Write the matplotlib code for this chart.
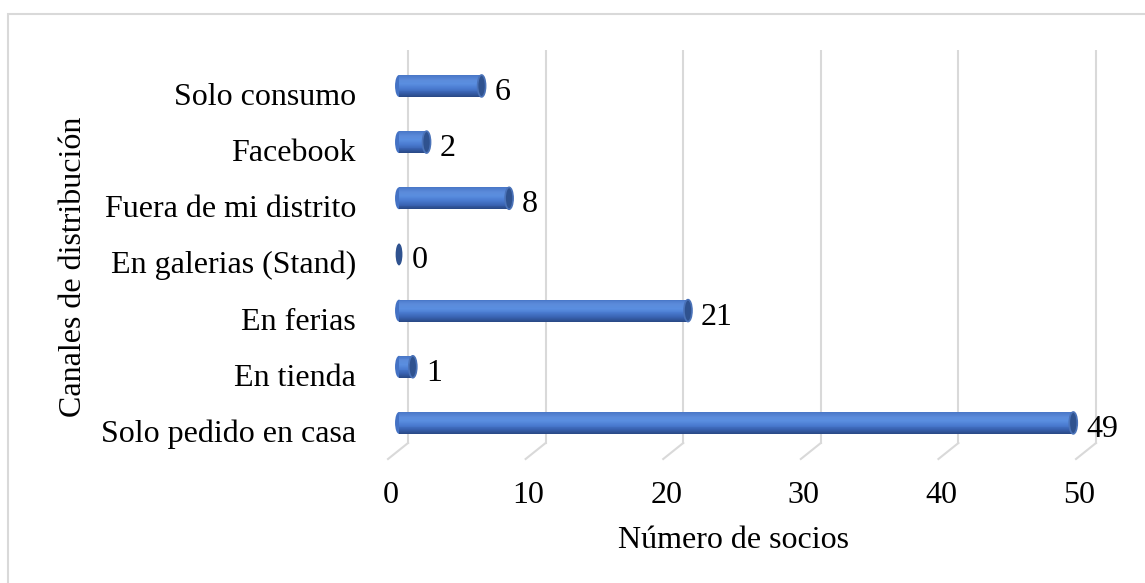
import matplotlib
matplotlib.use("Agg")
import matplotlib.pyplot as plt
import matplotlib.transforms as mtransforms
from matplotlib.patches import Ellipse, Rectangle
from matplotlib.colors import LinearSegmentedColormap
import numpy as np

# Data
canales = ["Solo pedido en casa", "En tienda", "En ferias", "En galerias (Stand)",
           "Fuera de mi distrito", "Facebook", "Solo consumo"]
socios = [49, 1, 21, 0, 8, 2, 6]
ticks = [0, 10, 20, 30, 40, 50]

plt.rcParams['font.family'] = ['Liberation Serif', 'DejaVu Serif']
FS = 23

W, H = 1145, 583
fig = plt.figure(figsize=(W / 100, H / 100), dpi=100)

# outer chart border (only left/top visible in the picture)
fig.add_artist(Rectangle((8 / W, -0.1), 1.2, (583 - 14) / H + 0.1, transform=fig.transFigure,
                         fill=False, edgecolor='#d9d9d9', linewidth=1.5))

ax = fig.add_axes([370 / W, (583 - 460) / H, 740 / W, 410 / H])
ax.set_xlim(-2.11, 51.67)
ax.set_ylim(-0.66, 6.64)
for s in ax.spines.values():
    s.set_visible(False)
ax.set_yticks([])
ax.set_xticks([])


def px(dx, dy=0):
    # pixel offset as a transform
    return mtransforms.ScaledTranslation(dx / fig.dpi, dy / fig.dpi, fig.dpi_scale_trans)


# gridlines on the back wall + floor diagonals
blend = mtransforms.blended_transform_factory(ax.transData, ax.transAxes)
y_floor = (460 - 443) / 410
for v in ticks:
    ax.plot([v, v], [y_floor, 1], color='#d9d9d9', lw=1.5, transform=blend + px(9), zorder=1)
    p0 = (blend + px(9)).transform((v, y_floor))
    p1 = (blend + px(-11, -16)).transform((v, y_floor))
    fig.add_artist(plt.Line2D([p0[0] / W, p1[0] / W], [p0[1] / H, p1[1] / H],
                              color='#d9d9d9', lw=1.5, transform=fig.transFigure))

# cylinder bars
cmap = LinearSegmentedColormap.from_list(
    'cyl', ['#2a4a88', '#3a64b4', '#4a7bd0', '#5a8ee0', '#5b8bda', '#4a78c8'])
bh = 0.39
cap_w = 8 / 13.76
nstrip = 24
for i, v in enumerate(socios):
    if v > 0:
        ax.add_patch(Ellipse((0, i), cap_w, bh, facecolor='#4472c4', edgecolor='none', zorder=3))
        for k in range(nstrip):
            y0 = i - bh / 2 + k * bh / nstrip
            ax.barh(y0, v, height=bh / nstrip * 1.05, align='edge',
                    color=cmap(k / (nstrip - 1)), edgecolor='none', zorder=3)
        ax.add_patch(Ellipse((v, i), cap_w, bh, facecolor='#2f528f', edgecolor='#4a72b8',
                             lw=1.2, zorder=4))
    else:
        ax.add_patch(Ellipse((0, i), cap_w * 0.85, bh, facecolor='#2f528f', edgecolor='none', zorder=4))
    ax.text(v, i, str(v), fontsize=FS, va='baseline', ha='left',
            transform=ax.transData + px(13, -14), zorder=5)

# category labels
ylab_tr = mtransforms.blended_transform_factory(ax.transAxes, ax.transData) + px(-14, -19)
for i, c in enumerate(canales):
    ax.text(0, i, c, fontsize=FS, ha='right', va='baseline', transform=ylab_tr)

# x tick labels
for v in ticks:
    ax.text(v, 0, str(v), fontsize=FS, ha='center', va='baseline',
            transform=blend + px(-8, -43))

fig.text(733 / W, 1 - 548 / H, "Número de socios", fontsize=FS, ha='center', va='baseline')
fig.text(74 / W, 1 - 267 / H, "Canales de distribución", fontsize=FS, ha='center', va='center',
         rotation=90)

fig.savefig("out.png", dpi=100)
